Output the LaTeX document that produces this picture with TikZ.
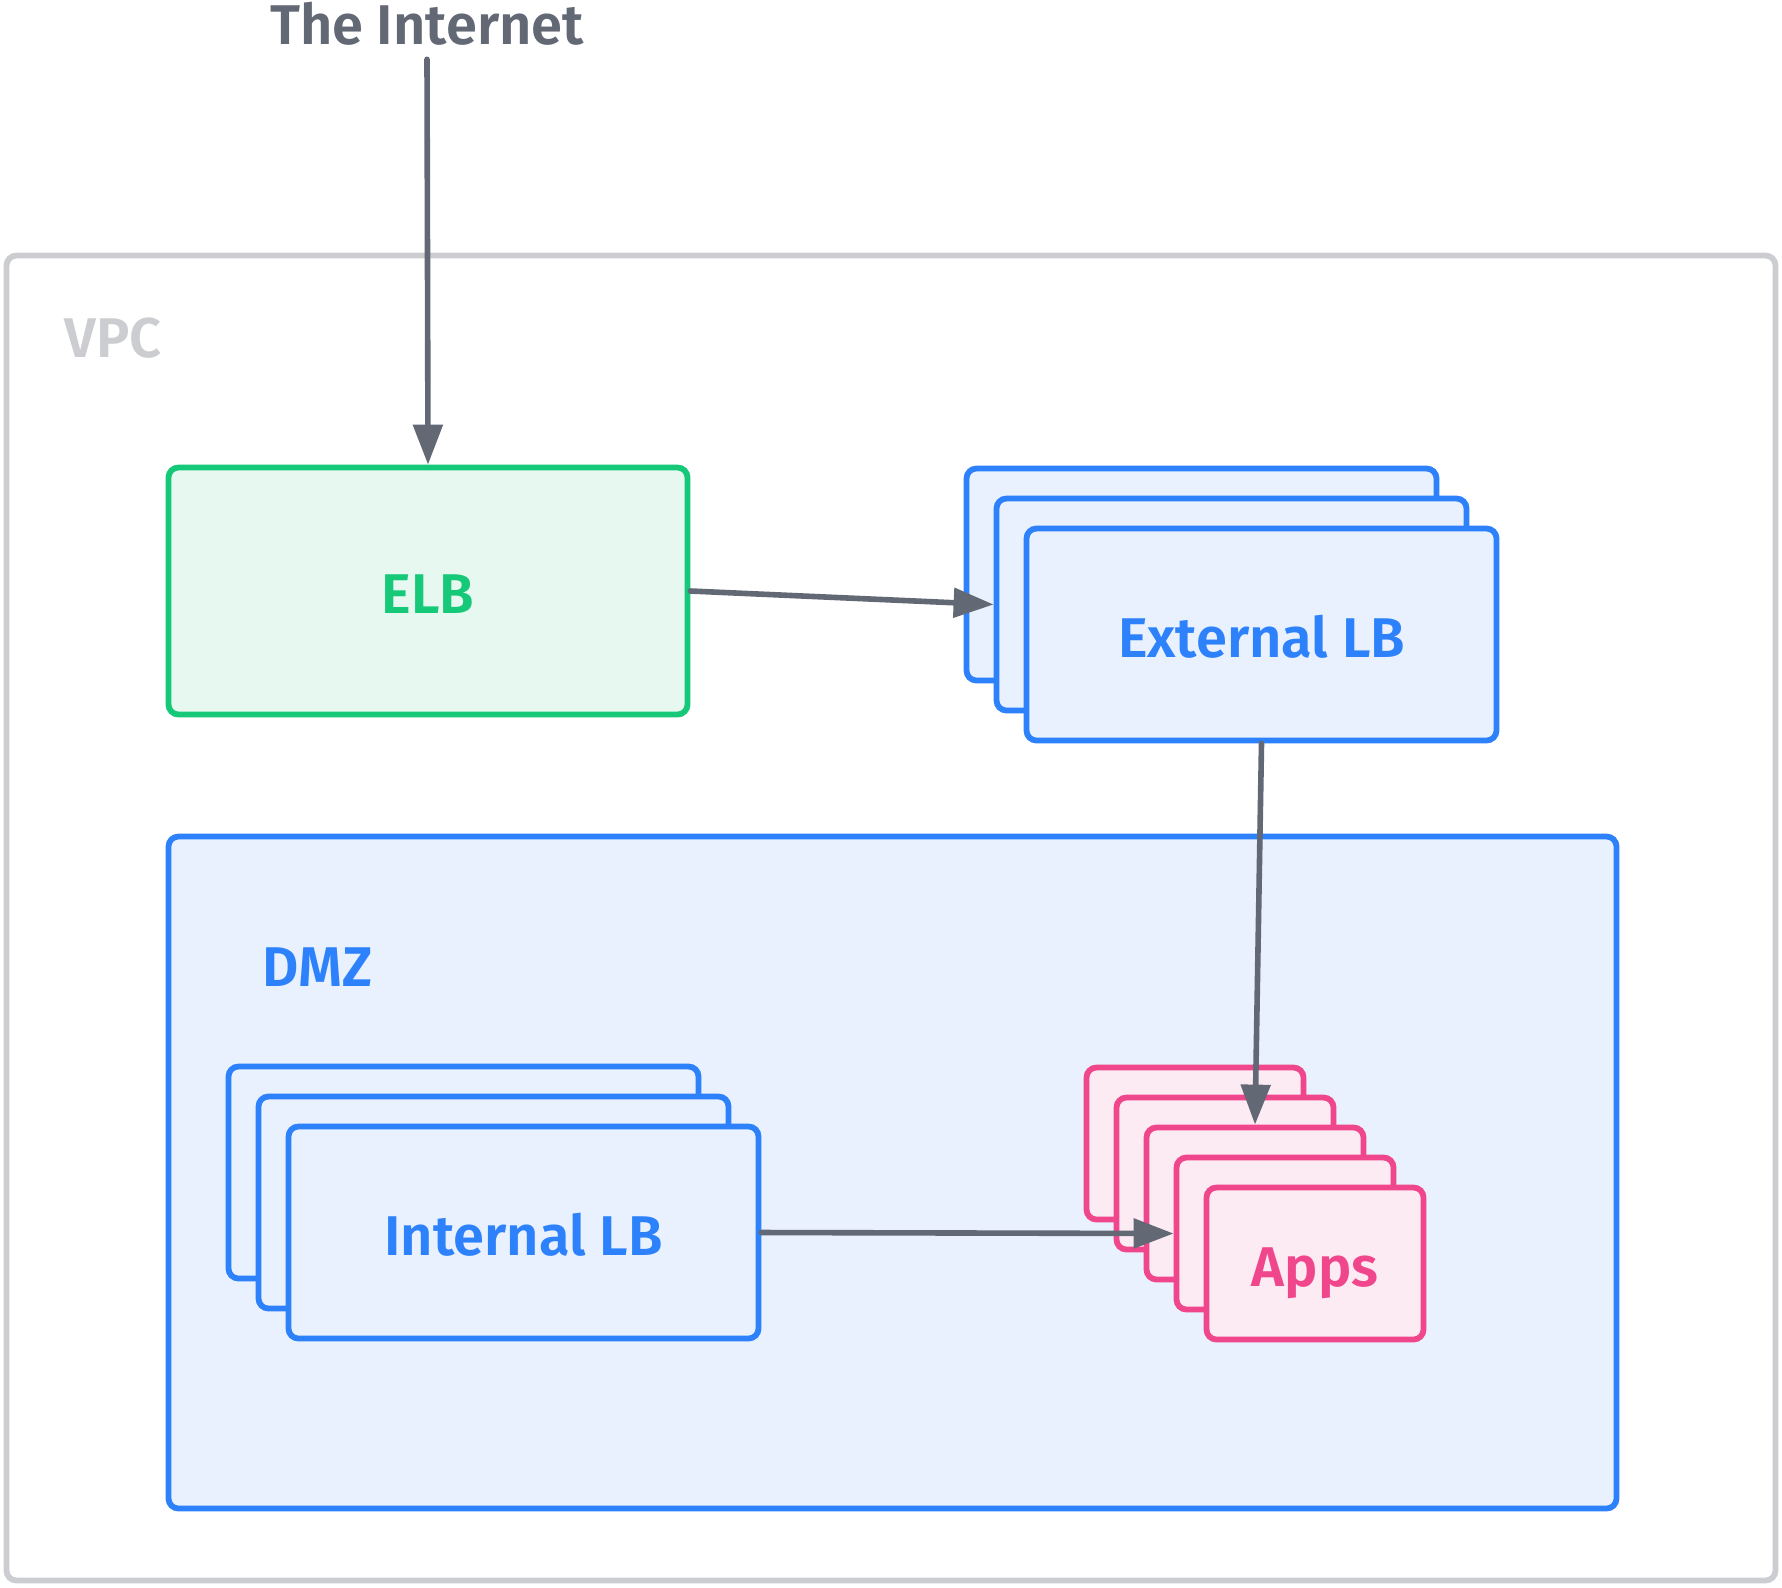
\documentclass[tikz,border=0pt]{standalone}
\usepackage{fontspec}
\setmainfont{Fira Sans}[UprightFont=* SemiBold]
\usetikzlibrary{arrows.meta}
\definecolor{arrowgray}{RGB}{99,104,117}
\definecolor{vpcgray}{RGB}{204,205,209}
\definecolor{elbgreen}{RGB}{21,201,120}
\definecolor{elbfill}{RGB}{231,248,240}
\definecolor{lbblue}{RGB}{45,130,252}
\definecolor{lbfill}{RGB}{233,241,254}
\definecolor{apppink}{RGB}{240,70,140}
\definecolor{appfill}{RGB}{253,235,243}

\begin{document}
\begin{tikzpicture}[x=0.5pt, y=-0.5pt,
    zone/.style={draw, line width=2.9pt, rounded corners=5pt, inner sep=0pt,
      text height=22.5pt, text depth=0pt, font=\fontsize{28}{30}\selectfont},
    lbbox/.style={zone, draw=lbblue, fill=lbfill, text=lbblue,
      minimum width=235pt, minimum height=106pt},
    appbox/.style={zone, draw=apppink, fill=appfill, text=apppink,
      minimum width=108.5pt, minimum height=76pt},
    flow/.style={-{Triangle[length=20pt, width=14.5pt]}, line width=2.8pt,
      draw=arrowgray, line cap=round}]
  \useasboundingbox (0,0) rectangle (1782,1587);

  % VPC and DMZ areas
  \node[zone, draw=vpcgray, fill=white, minimum width=884.5pt,
    minimum height=662.5pt] (vpc) at (891,918) {};
  \node[zone, anchor=base west, draw=none, text=vpcgray] (vpclabel)
    at (62,357) {VPC};
  \node[zone, draw=lbblue, fill=lbfill, minimum width=724pt,
    minimum height=336pt] (dmz) at (892.5,1172.5) {};
  \node[zone, anchor=base west, draw=none, text=lbblue] (dmzlabel)
    at (260,986) {DMZ};

  % ELB
  \node[zone, draw=elbgreen, fill=elbfill, text=elbgreen,
    minimum width=259.5pt, minimum height=123.5pt] (elb) at (428,591) {ELB};

  % External LB (stack of three)
  \node[lbbox] (extback) at (1201.5,574.5) {};
  \node[lbbox] (extmid) at (1231.5,604.5) {};
  \node[lbbox] (extfront) at (1261.5,634.5) {External LB};

  % Internal LB (stack of three)
  \node[lbbox] (intback) at (463.5,1172.5) {};
  \node[lbbox] (intmid) at (493.5,1202.5) {};
  \node[lbbox] (intfront) at (523.5,1232.5) {Internal LB};

  % Apps (stack of five)
  \node[appbox] (app1) at (1195,1143.5) {};
  \node[appbox] (app2) at (1225,1173.5) {};
  \node[appbox] (app3) at (1255,1203.5) {};
  \node[appbox] (app4) at (1285,1233.5) {};
  \node[appbox] (app5) at (1315,1263.5) {Apps};

  % The Internet
  \node[font=\fontsize{28}{30}\selectfont, text=arrowgray, inner sep=7pt,
    anchor=base] (inet) at (427,44) {The Internet};

  % Connectors
  \draw[flow] (inet.south) -- (elb.north);
  \draw[flow] (elb.east) -- (extmid.west);
  \draw[flow] (extfront.south) -- (app3.north);
  \draw[flow] (intfront.east) -- (app4.west);
\end{tikzpicture}
\end{document}
